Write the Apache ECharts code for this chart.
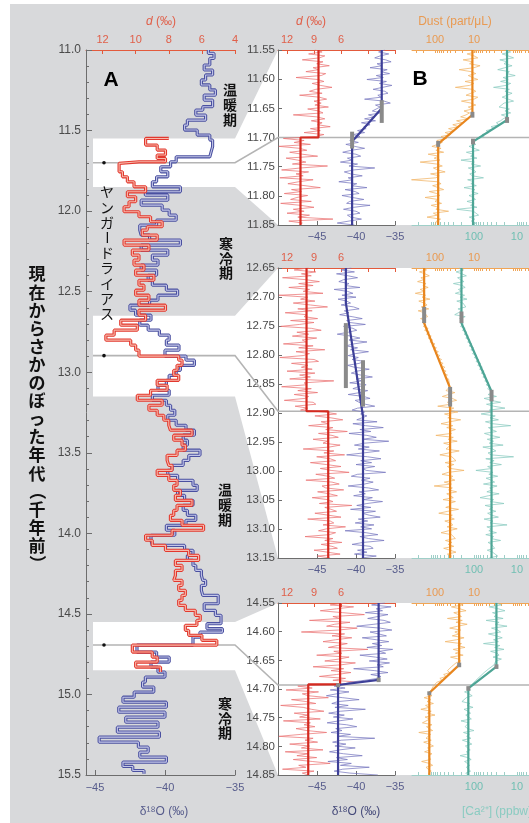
<!DOCTYPE html>
<html><head><meta charset="utf-8">
<script src="https://cdn.jsdelivr.net/npm/echarts@6/dist/echarts.min.js"></script>
<style>html,body{margin:0;padding:0;background:#fff}#c{width:529px;height:823px}</style>
</head><body><div id="c"></div>
<script>
// ---------- Panel A (20-yr step data) ----------
const aBlueT = [11.000,11.021,11.052,11.093,11.124,11.155,11.186,11.217,11.248,11.280,11.311,11.352,11.373,11.404,11.435,11.466,11.497,11.528,11.559,11.600,11.631,11.663,11.694,11.725,11.756,11.787,11.818,11.849,11.880,11.901,11.932,11.963,11.994,12.025,12.056,12.087,
12.118,12.149,12.180,12.211,12.242,12.273,12.304,12.335,12.366,12.398,12.429,12.460,12.491,12.522,12.553,12.584,12.615,12.646,12.677,12.708,12.739,12.770,12.801,12.832,12.863,12.900,12.925,12.957,12.988,13.019,13.050,13.081,13.112,13.143,13.174,13.205,
13.236,13.267,13.298,13.329,13.360,13.391,13.422,13.453,13.484,13.516,13.547,13.578,13.609,13.640,13.671,13.702,13.733,13.764,13.795,13.826,13.857,13.888,13.919,13.950,13.981,14.012,14.043,14.075,14.106,14.137,14.168,14.199,14.230,14.261,14.292,14.323,
14.354,14.385,14.437,14.478,14.509,14.561,14.592,14.613,14.644,14.694,14.737,14.768,14.799,14.830,14.861,14.892,14.923,14.954,14.985,15.017,15.048,15.079,15.110,15.141,15.172,15.203,15.234,15.265,15.296,15.327,15.358,15.389,15.420,15.447,15.472];
const aBlueV = [-36.9,-36.5,-36.8,-37.2,-36.6,-37.1,-37.4,-36.8,-36.4,-37.2,-36.6,-37.3,-37.8,-37.1,-38.4,-38.6,-37.7,-36.8,-36.6,-36.7,-36.8,-39.2,-39.6,-40.3,-39.8,-40.6,-40.9,-38.9,-41.4,-39.8,-41.7,-40.2,-39.7,-39.2,-40.6,-41.8,
-41.7,-41.1,-38.9,-41.7,-39.8,-40.9,-40.5,-41.7,-40.6,-41.2,-40.9,-39.9,-39.1,-40.5,-41.1,-42.5,-42.1,-41.0,-41.8,-41.2,-40.4,-39.7,-39.9,-39.0,-40.0,-38.5,-37.9,-38.9,-39.2,-39.7,-39.9,-40.5,-39.7,-40.9,-39.9,-39.6,
-39.3,-39.8,-39.2,-38.5,-37.9,-38.7,-38.4,-38.7,-37.5,-38.3,-38.7,-39.5,-39.8,-39.1,-38.0,-37.7,-39.1,-38.6,-38.0,-38.7,-38.4,-37.8,-38.5,-39.9,-39.3,-41.0,-40.9,-38.6,-38.0,-38.4,-38.0,-37.8,-37.4,-37.3,-37.1,-37.4,
-37.3,-36.2,-37.2,-36.4,-36.0,-37.0,-35.9,-37.5,-38.0,-42.0,-40.6,-39.7,-41.0,-40.5,-40.0,-41.4,-41.6,-40.8,-42.2,-43.0,-39.9,-43.3,-40.0,-42.8,-40.5,-43.4,-40.4,-44.7,-41.9,-41.2,-41.8,-39.9,-43.0,-42.3,-41.5];
const aBlueEnd = 15.492;
const aRedT = [11.549,11.549,11.590,11.621,11.652,11.673,11.694,11.704,11.756,11.787,11.818,11.849,11.880,11.911,11.942,11.973,12.004,12.035,12.066,12.097,
12.118,12.149,12.180,12.211,12.242,12.273,12.304,12.335,12.366,12.398,12.429,12.460,12.491,12.522,12.553,12.584,12.615,12.646,12.677,12.708,12.739,12.770,12.801,12.832,12.863,12.900,12.925,12.957,12.988,13.019,13.050,13.081,13.112,13.143,13.174,13.205,
13.236,13.267,13.298,13.329,13.360,13.391,13.422,13.453,13.484,13.516,13.547,13.578,13.609,13.640,13.671,13.702,13.733,13.764,13.795,13.826,13.857,13.888,13.919,13.950,13.981,14.012,14.043,14.075,14.106,14.137,14.168,14.199,14.230,14.261,14.292,14.323,
14.354,14.385,14.416,14.447,14.478,14.509,14.540,14.571,14.602,14.633,14.664,14.694,14.737,14.768,14.799,14.830];
const aRedV = [8.0,9.4,8.7,8.2,8.7,8.2,9.8,11.0,10.8,10.5,10.1,9.4,10.5,10.0,10.4,10.7,9.8,9.1,8.4,9.3,
9.6,8.7,10.7,9.2,10.2,9.8,10.1,9.5,10.0,8.9,9.8,9.5,10.0,9.2,9.8,8.2,9.8,9.4,10.9,9.9,11.3,11.8,10.3,10.0,9.8,7.4,7.2,7.5,7.7,7.4,8.7,8.1,9.1,9.9,8.4,9.2,
8.7,8.3,8.0,7.9,6.6,7.7,7.2,7.0,7.5,8.1,8.0,7.8,8.7,8.0,7.5,7.7,7.3,7.6,6.6,7.5,7.7,7.9,7.2,5.9,7.8,9.4,9.0,8.2,6.8,6.2,7.6,7.2,7.6,7.7,7.2,7.4,
7.0,7.2,7.4,7.0,6.4,6.1,6.3,7.0,6.8,6.0,5.1,10.2,9.0,8.7,10.0,8.5];
const aRedEnd = 14.861;

// ---------- Panel B high-resolution data (evenly spaced within each window) ----------
const subRanges = [[11.55,11.85],[12.65,13.15],[14.55,14.85]];
const transT = [11.700, 12.897, 14.693];

const bD1 = [8.9,8.1,9.6,7.8,8.4,10.3,8.0,8.7,7.3,9.1,8.5,9.9,7.7,8.2,11.0,8.6,7.9,9.2,8.3,7.0,8.8,9.5,8.1,10.6,8.4,7.6,9.0,8.2,8.9,7.4,9.7,8.5,8.0,11.3,8.7,7.8,9.3,8.1,8.6,7.2,9.4,8.3,10.1,7.9,8.8,
12.4,10.1,11.2,9.4,12.9,10.6,9.8,11.7,10.3,8.6,12.1,10.8,9.9,11.4,7.5,10.5,12.6,9.6,11.0,10.2,12.8,9.1,10.7,11.9,10.0,8.3,11.5,10.4,12.3,9.7,10.9,11.6,9.3,12.7,10.5,9.0,11.3,10.1,12.0,9.5,10.8,6.9,11.8,10.3,10.6];
const bO1 = [-36.3,-37.1,-35.8,-36.9,-37.6,-36.2,-35.5,-37.3,-36.7,-38.2,-36.0,-36.8,-35.7,-37.4,-36.5,-38.6,-36.1,-37.0,-35.4,-36.6,-37.8,-36.3,-35.9,-37.2,-36.8,-38.9,-36.4,-35.6,-37.5,-36.9,
-37.0,-37.9,-36.8,-38.4,-37.6,-38.9,-37.5,-39.3,-38.2,-39.0,-38.7,-39.8,-38.9,-40.4,-39.5,-40.1,
-40.8,-39.7,-41.3,-40.2,-38.9,-40.6,-41.7,-40.0,-39.4,-41.1,-40.5,-42.0,-39.8,-40.9,-37.6,-40.3,-41.5,-40.7,-39.2,-41.0,-40.4,-42.2,-39.9,-40.6,-38.6,-41.4,-40.1,-39.6,-41.8,-40.5,-39.0,-40.8,-41.2,-38.2,-40.3,-41.6,-40.0,-39.5,-41.1,-40.7,-39.3,-40.9,-42.4,-40.2];
const bDust1 = [12,9,15,10,8,19,11,13,7,10,24,12,9,14,11,8,17,10,13,30,11,9,12,16,8,10,21,12,9,14,11,18,13,
16,22,14,28,20,35,25,45,32,55,40,70,50,90,65,
85,120,70,95,60,150,80,105,75,240,90,65,110,85,55,130,78,95,400,88,70,115,82,60,140,90,75,180,85,100,68,125,80,95,45,110,88,160,72,92,85,100];
const bCa1 = [18,14,22,16,12,25,17,20,13,19,28,15,17,11,21,16,24,14,18,35,15,19,13,17,22,16,12,20,18,26,15,19,14,23,17,21,
24,30,26,40,34,52,45,65,58,80,95,
110,90,130,100,75,150,105,120,85,200,98,115,70,135,102,90,125,108,60,140,100,118,88,170,95,112,80,130,105,92,145,99,120,85,250,103,110,78,128,96,115,90,105];

const bD2 = [9.6,11.2,8.8,10.4,9.3,12.5,9.9,8.4,10.7,9.1,11.8,9.5,10.2,8.0,12.9,9.7,10.5,8.9,11.3,9.4,7.5,10.8,9.2,12.2,9.8,10.1,8.6,11.6,9.0,10.6,12.7,9.3,8.2,10.9,9.6,11.4,8.7,10.3,9.9,12.4,
9.1,10.7,7.8,11.0,9.5,10.2,12.8,9.0,8.5,11.5,9.7,10.4,9.2,12.0,8.9,10.6,9.4,11.7,6.8,10.1,9.8,12.6,9.3,10.8,8.6,11.2,9.6,10.0,12.3,9.1,8.8,11.1,9.7,10.5,
7.8,6.5,8.9,7.1,5.8,8.2,7.4,9.6,6.9,7.7,5.3,8.5,7.0,6.3,9.1,7.5,8.0,6.1,7.3,10.2,6.8,7.9,5.6,8.7,7.2,6.6,9.4,7.6,6.0,8.3,7.1,5.1,8.8,7.4,6.7,9.9,7.0,6.2,8.1,7.7,
5.7,8.6,7.3,6.4,9.2,7.5,6.9,8.4,4.8,7.8,7.1,6.5,8.9,7.4,6.0,9.7,7.2,6.8,8.0,5.5,7.6,8.5,6.6,7.3,10.0,6.9,7.8,5.9,8.2,7.0,6.4,9.0,7.5,6.1,8.6,7.2];
const bO2 = [-40.6,-41.9,-40.2,-42.5,-41.0,-39.8,-41.6,-42.2,-40.9,-41.4,-39.5,-42.8,-41.1,-40.4,-41.8,-40.0,-42.3,-41.2,
-40.7,-41.9,-40.3,-39.6,-41.5,-40.9,-42.1,-40.5,-39.2,-41.2,-40.8,-38.8,-41.6,-40.4,-39.9,-41.0,-42.4,-40.6,-39.5,-40.9,
-38.6,-40.3,-41.3,-39.8,-40.7,-38.4,-40.1,-41.0,-39.7,-40.5,-38.9,-39.6,-41.1,-40.2,-38.3,-39.9,-40.6,-39.4,-37.9,-40.0,
-39.3,-40.8,-38.7,-39.7,-40.4,-38.5,-39.5,-41.0,-39.0,-38.2,-40.1,-39.6,-38.8,-37.6,-39.8,-40.5,-38.9,-39.4,-38.6,
-38.4,-39.9,-37.3,-40.4,-38.8,-36.5,-39.5,-38.1,-40.9,-38.6,-37.4,-39.2,-35.8,-38.9,-40.2,-38.3,-39.7,-37.0,-39.0,-41.2,
-38.5,-36.8,-39.4,-38.0,-40.0,-37.6,-39.1,-38.7,-36.2,-39.8,-40.6,-38.2,-39.3,-37.8,-38.9,-41.0,-38.4,-37.1,-39.6,-38.8,
-40.3,-37.9,-39.0,-36.6,-38.6,-39.9,-38.1,-40.7,-37.5,-39.2,-38.3,-36.9,-39.7,-38.5,-40.1,-37.7,-39.4,-38.0,-41.4,-38.7,
-37.2,-39.5,-38.4,-36.4,-39.1,-40.5,-38.2,-37.8,-39.8,-38.6,-40.2,-37.4,-39.3];
const bDust2 = [210,165,250,180,140,230,195,280,170,205,150,240,185,320,175,215,135,260,190,160,225,145,270,185,200,155,235,175,210,
170,200,150,185,140,165,125,150,115,135,100,120,92,108,82,98,75,88,68,80,62,72,56,66,52,60,48,55,45,50,43,47,42,
38,52,31,45,65,36,28,48,40,85,33,44,26,57,39,47,22,42,70,35,50,30,43,38,95,34,46,27,60,40,36,52,24,44,75,37,41,29,55,33,
48,40,18,46,66,35,42,31,58,38,105,36,45,28,50,41,34,62,30,44,39,53,25,47,80,36,43,32,56,40,35,49,27,45,70,38,42,30,54,37,46,33,60,41,29,48,38,43];
const bCa2 = [220,175,260,190,150,240,205,170,300,185,160,230,195,270,165,210,145,250,180,200,155,235,190,175,280,160,215,185,200,
180,205,160,185,145,170,135,155,125,140,112,130,102,118,95,108,85,98,78,90,70,82,64,74,58,68,54,62,50,56,46,52,43,48,41,
36,47,30,58,40,24,51,35,19,44,38,68,32,42,27,54,37,14,46,39,30,57,41,25,49,35,44,21,62,37,31,47,40,12,53,34,43,23,48,38,
90,36,45,28,52,40,33,60,29,43,38,50,26,46,72,35,41,20,55,37,44,31,48,39,27,58,36,42,17,50,38,45,30,53,35,40,24,47,39,43,33,49,37,41,28,44];

const bD3 = [5.4,7.2,4.6,6.5,8.3,5.8,3.4,6.9,6.1,9.5,5.0,6.7,7.6,4.2,6.3,10.4,5.6,7.0,4.8,6.6,8.0,5.3,6.4,7.4,3.0,6.8,5.9,8.7,5.1,6.2,7.8,4.4,6.0,9.1,5.7,7.1,4.9,6.5,8.4,5.5,6.9,3.8,6.3,
10.8,9.2,12.1,8.5,10.3,9.6,7.4,11.5,9.9,8.8,12.7,10.2,9.3,7.9,11.2,9.7,10.6,8.3,12.4,9.4,10.1,8.9,11.0,9.8,7.6,10.5,12.9,9.1,10.0,8.6,11.7,9.5,10.4,8.0,12.2,9.6,10.9,8.7,11.3,9.2,7.2,10.7,9.9,12.5,9.0,10.3,9.6];
const bO3 = [-36.3,-38.0,-35.5,-37.4,-36.6,-38.8,-35.9,-37.2,-38.5,-36.4,-35.6,-37.7,-39.9,-36.9,-35.4,-38.2,-37.1,-36.1,-39.2,-37.4,-35.8,-37.9,-36.7,-38.6,-35.3,-37.0,-36.2,-39.5,-37.5,-36.0,-38.3,-35.7,-37.3,-36.5,-40.3,-37.6,-35.9,-38.1,-36.8,-37.2,
-38.9,-40.7,-41.6,
-42.8,-41.4,-43.3,-40.9,-42.5,-43.8,-41.7,-39.6,-42.3,-43.1,-41.0,-42.7,-38.8,-42.0,-43.5,-41.5,-42.9,-40.4,-42.2,-43.7,-41.2,-39.9,-42.6,-41.8,-43.2,-40.7,-42.4,-37.6,-41.9,-43.0,-41.3,-42.7,-40.1,-42.1,-43.4,-41.6,-39.2,-42.5,-41.1,-43.6,-40.6,-42.0,-38.3,-41.7,-42.8,-40.8,-37.2];
const bDust3 = [27,19,38,23,16,33,25,21,48,20,29,15,26,42,22,31,24,36,18,28,55,21,26,17,34,23,30,19,40,25,22,29,
30,38,34,48,42,60,52,75,66,90,80,110,98,125,135,
150,120,190,130,160,110,175,140,230,125,155,100,180,135,145,210,120,165,140,115,260,130,150,170,125,195,140,110,155,135,185,120,145,160,130,220,140,115,170,150,125,145,140];
const bCa3 = [31,23,44,27,19,37,29,34,21,52,26,32,17,39,28,24,46,30,22,35,27,60,25,33,20,41,29,26,36,23,31,28,34,
36,45,42,58,54,72,68,90,88,110,125,
140,120,165,130,110,150,135,190,125,145,105,170,138,120,155,142,115,200,132,125,160,140,100,175,128,148,118,185,136,112,158,140,122,150,130,210,138,116,165,142,126,150,134,120,155,140];

// fitted transitions [age, value]
const fitD1 = [[11.55,8.5],[11.70,8.5],[11.70,10.5],[11.85,10.5]];
const fitO1 = [[11.55,-36.7],[11.65,-36.7],[11.707,-40.5],[11.85,-40.5]];
const fitDust1 = [[11.55,11],[11.661,11],[11.711,83],[11.85,83]];
const fitCa1 = [[11.55,17],[11.67,17],[11.707,105],[11.85,105]];
const fitD2 = [[12.65,9.83],[12.897,9.83],[12.897,7.42],[13.15,7.42]];
const fitO2 = [[12.65,-41.3],[12.71,-41.3],[12.906,-39.1],[13.15,-39.1]];
const fitDust2 = [[12.65,190],[12.745,190],[12.857,41],[13.15,41]];
const fitCa2 = [[12.65,195],[12.745,195],[12.863,39],[13.15,39]];
const fitD3 = [[14.55,6.1],[14.692,6.1],[14.692,9.64],[14.85,9.64]];
const fitO3 = [[14.55,-37.1],[14.684,-37.1],[14.693,-42.3],[14.85,-42.3]];
const fitDust3 = [[14.55,24],[14.658,24],[14.707,140],[14.85,140]];
const fitCa3 = [[14.55,30],[14.661,30],[14.699,135],[14.85,135]];
// uncertainty bars [value, age1, age2]
const errO1 = [[-36.7,11.636,11.675],[-40.5,11.690,11.719]];
const errDust1 = [[11,11.656,11.666],[83,11.706,11.716]];
const errCa1 = [[17,11.665,11.675],[105,11.702,11.712]];
const errO2 = [[-41.3,12.745,12.857],[-39.1,12.809,12.889]];
const errDust2 = [[190,12.717,12.745],[41,12.855,12.889]];
const errCa2 = [[195,12.725,12.745],[39,12.860,12.880]];
const errO3 = [[-37.1,14.680,14.688],[-42.3,14.690,14.697]];
const errDust3 = [[24,14.654,14.662],[140,14.704,14.711]];
const errCa3 = [[30,14.657,14.665],[135,14.695,14.703]];

// tick labels
const aD18Labels = [-45,-40,-35];
const aDLabels = [4,6,8,10,12];
const bD18Labels = [-45,-40,-35];
const bDLabels = [6,9,12];
const bDTicks = [0,3,6,9,12];
const dustLabels = [10,100];
const caLabels = [10,100];

// ---------- layout ----------
const FONT = '"Liberation Sans", Arial, sans-serif';
const JP = '"Noto Sans CJK JP", sans-serif';
const A = {left:86, top:50, width:149, height:725};
const B1L = 278, B2L = 412, BW = 117, W = 529;
const subTop = [50,268,603], subH = [175,290,172];
const RED='#e0604a', BLUEL='#575c8c', OR='#e99a52', TEAL='#70bfb3', GRAYAX='#6d6d6d';

const chart = echarts.init(document.getElementById('c'), null, {renderer:'canvas'});
const lg = Math.log10, id = v => v;
const minus = v => (v < 0 ? '\u2212' : '') + Math.abs(v);

function stairs(ts, vs, tEnd){ const out=[]; for(let i=0;i<ts.length;i++){ const t1 = i+1<ts.length ? ts[i+1] : tEnd; out.push([vs[i], ts[i]],[vs[i], t1]); } return out; }
function spread(vals, tr, f){ const n=vals.length; return vals.map((v,i)=>[f(v), tr[0]+(tr[1]-tr[0])*i/(n-1)]); }
function fitPts(arr, f){ return arr.map(p=>[f(p[1]), p[0]]); }
function logTicks(lo, hi){ const out=[]; for(let n=-1;n<=3;n++) for(let k=1;k<=9;k++){ const v=n+Math.log10(k); if(v>=lo-1e-9 && v<=hi+1e-9) out.push(v);} return out; }

function xax(o, color, lineColor, ticks, labels, fmt, tickLen, margin){
  return Object.assign({type:'value', splitLine:{show:false},
    axisLine:{show:true, onZero:false, lineStyle:{color:lineColor, width:1}},
    axisTick:{show:true, inside:true, length:tickLen, customValues:ticks, lineStyle:{color:lineColor}},
    axisLabel:{show:true, customValues:labels, color:color, fontSize:11, fontFamily:FONT, margin:margin, formatter:fmt}
  }, o);
}

const grids = [Object.assign({outerBoundsMode:'none'}, A)];
subTop.forEach((t,i)=>grids.push({left:B1L, top:t, width:BW, height:subH[i], outerBoundsMode:'none'}));
subTop.forEach((t,i)=>grids.push({left:B2L, top:t, width:BW, height:subH[i], outerBoundsMode:'none'}));

const DUST_MIN = -0.41, DUST_MAX = 2.59, CA_MIN = 0.72, CA_MAX = 3.44;
const xAxes = [
  xax({gridIndex:0, position:'bottom', min:-45.64, max:-35}, BLUEL, GRAYAX, aD18Labels, aD18Labels, minus, 5, 7),
  xax({gridIndex:0, position:'top', min:4, max:13, inverse:true}, RED, '#e35a3c', aDLabels, aDLabels, String, 4, 5)
];
for(let i=0;i<3;i++){
  xAxes.push(xax({gridIndex:1+i, position:'bottom', min:-50, max:-35}, BLUEL, GRAYAX, [-50,-45,-40,-35], bD18Labels, minus, 4, 6));
  xAxes.push(xax({gridIndex:1+i, position:'top', min:0, max:13, inverse:true}, RED, '#e35a3c', bDTicks, bDLabels, String, 4, 5));
}
for(let i=0;i<3;i++){
  xAxes.push(xax({gridIndex:4+i, position:'bottom', min:CA_MIN, max:CA_MAX, inverse:true}, TEAL, '#9fcfc8', logTicks(CA_MIN,CA_MAX), caLabels.map(lg), v=>String(Math.round(Math.pow(10,v))), 3, 6));
  xAxes.push(xax({gridIndex:4+i, position:'top', min:DUST_MIN, max:DUST_MAX, inverse:true}, OR, '#f0a556', logTicks(DUST_MIN,DUST_MAX), dustLabels.map(lg), v=>String(Math.round(Math.pow(10,v))), 3, 5));
}

const yAxes = [{gridIndex:0, type:'value', inverse:true, min:11, max:15.5, interval:0.5,
  axisLine:{show:true, onZero:false, lineStyle:{color:GRAYAX}},
  axisTick:{show:true, inside:true, length:6, lineStyle:{color:GRAYAX}},
  minorTick:{show:true, splitNumber:5, length:3, lineStyle:{color:GRAYAX}},
  axisLabel:{color:'#4a4a4a', fontSize:12, fontFamily:FONT, margin:5, formatter:v=>v.toFixed(1)},
  splitLine:{show:false}, minorSplitLine:{show:false}}];
subRanges.forEach((r,i)=>yAxes.push({gridIndex:1+i, type:'value', inverse:true, min:r[0], max:r[1], interval:0.05,
  axisLine:{show:true, onZero:false, lineStyle:{color:GRAYAX}},
  axisTick:{show:true, inside:true, length:4, lineStyle:{color:GRAYAX}},
  axisLabel:{color:'#4a4a4a', fontSize:11.5, fontFamily:FONT, margin:3, formatter:v=>v.toFixed(2)},
  splitLine:{show:false}}));
subRanges.forEach((r,i)=>yAxes.push({gridIndex:4+i, type:'value', inverse:true, min:r[0], max:r[1], show:false, splitLine:{show:false}}));

function line(data, xi, yi, color, width, z, opacity){
  return {type:'line', xAxisIndex:xi, yAxisIndex:yi, data:data, symbol:'none', showSymbol:false, silent:true,
    lineStyle:{color:color, width:width, opacity:opacity==null?1:opacity}, z:z, animation:false};
}

const series = [
  line(stairs(aBlueT,aBlueV,aBlueEnd),0,0,'#4a50a0',3.2,2),
  line(stairs(aBlueT,aBlueV,aBlueEnd),0,0,'#c3c6e8',1.1,2),
  line(stairs(aRedT,aRedV,aRedEnd),1,0,'#e2382e',3.2,2),
  line(stairs(aRedT,aRedV,aRedEnd),1,0,'#f7b8aa',1.1,2)
];
const subs = [
  {d:bD1,o:bO1,du:bDust1,ca:bCa1,fd:fitD1,fo:fitO1,fdu:fitDust1,fca:fitCa1,eo:errO1,edu:errDust1,eca:errCa1},
  {d:bD2,o:bO2,du:bDust2,ca:bCa2,fd:fitD2,fo:fitO2,fdu:fitDust2,fca:fitCa2,eo:errO2,edu:errDust2,eca:errCa2},
  {d:bD3,o:bO3,du:bDust3,ca:bCa3,fd:fitD3,fo:fitO3,fdu:fitDust3,fca:fitCa3,eo:errO3,edu:errDust3,eca:errCa3}
];
subs.forEach((s,i)=>{
  const tr = subRanges[i];
  const xO=2+2*i, xD=3+2*i, y1=1+i, xCa=8+2*i, xDu=9+2*i, y2=4+i;
  series.push(line(spread(s.d,tr,id),xD,y1,'#ea7070',0.8,2,0.9));
  series.push(line(spread(s.o,tr,id),xO,y1,'#7373bd',0.8,2,0.9));
  series.push(line(spread(s.du,tr,lg),xDu,y2,'#f2b466',0.8,2,0.95));
  series.push(line(spread(s.ca,tr,lg),xCa,y2,'#8acbc0',0.8,2,0.95));
  series.push(line(fitPts(s.fd,id),xD,y1,'#d42a20',2.2,4));
  series.push(line(fitPts(s.fo,id),xO,y1,'#3d3f98',2.2,4));
  series.push(line(fitPts(s.fdu,lg),xDu,y2,'#e8861e',2.2,4));
  series.push(line(fitPts(s.fca,lg),xCa,y2,'#4da595',2.2,4));
  s.eo.forEach(e=>series.push(line([[e[0],e[1]],[e[0],e[2]]],xO,y1,'#8a8a8a',4,5)));
  s.edu.forEach(e=>series.push(line([[lg(e[0]),e[1]],[lg(e[0]),e[2]]],xDu,y2,'#8a8a8a',4,5)));
  s.eca.forEach(e=>series.push(line([[lg(e[0]),e[1]],[lg(e[0]),e[2]]],xCa,y2,'#8a8a8a',4,5)));
});

chart.setOption({animation:false, backgroundColor:'#ffffff', grid:grids, xAxis:xAxes, yAxis:yAxes, series:series});

// ---------- decorations ----------
const ROT = new Set(['ー','（','）','(',')']);
function vtext(str, x, y0, pitch, size, weight){
  return Array.from(str).map((ch,i)=>({type:'text', x:x, y:y0+i*pitch, rotation:ROT.has(ch)?-Math.PI/2:0, z:20, silent:true,
    style:{text:ch, fill:'#111', font:weight+' '+size+'px '+JP, align:'center', verticalAlign:'middle', textAlign:'center', textVerticalAlign:'middle'}}));
}
function T(text, x, y, font, fill, align, rich){
  const st = {text:text, fill:fill, font:font, align:align||'center', verticalAlign:'middle', textAlign:align||'center', textVerticalAlign:'middle'};
  if(rich) st.rich = rich;
  return {type:'text', x:x, y:y, z:20, silent:true, style:st};
}
const px = (yi,t)=>chart.convertToPixel({yAxisIndex:yi}, t);
const els = [{type:'rect', shape:{x:10,y:4,width:W-10,height:819}, style:{fill:'#d8d9db'}, z:-5, silent:true}];
const aBand = A.left+7, aR = A.left+A.width;
subRanges.forEach((r,i)=>{
  const ta=px(0,r[0]), ba=px(0,r[1]), tb=px(1+i,r[0]), bb=px(1+i,r[1]);
  els.push({type:'polygon', silent:true, z:-4, shape:{points:[[aBand,ta],[aR,ta],[B1L,tb],[W,tb],[W,bb],[B1L,bb],[aR,ba],[aBand,ba]]}, style:{fill:'#ffffff'}});
  const ya=px(0,transT[i]), yb=px(1+i,transT[i]);
  els.push({type:'polyline', silent:true, z:1, shape:{points:[[aBand,ya],[aR,ya],[B1L,yb],[W,yb]]}, style:{stroke:'#b4b4b4', lineWidth:1.6, fill:null}});
  els.push({type:'circle', silent:true, z:6, shape:{cx:A.left+18, cy:ya, r:1.8}, style:{fill:'#111'}});
});
const dRich = {i:{font:'italic 12px '+FONT, fill:RED}, n:{font:'12px '+FONT, fill:RED}};
els.push(T('{i|d}{n| (‰)}', 161, 22, '12px '+FONT, RED, 'center', dRich));
els.push(T('{i|d}{n| (‰)}', 311, 22, '12px '+FONT, RED, 'center', dRich));
els.push(T('Dust (part/μL)', 455, 22, '12px '+FONT, OR));
els.push(T('δ¹⁸O (‰)', 164, 812, '12px '+FONT, BLUEL));
els.push(T('δ¹⁸O (‰)', 356, 812, '12px '+FONT, '#454a7a'));
els.push(T('[Ca²⁺] (ppbw)', 462, 812, '12px '+FONT, '#8acbc1', 'left'));
els.push(T('A', 111, 80, 'bold 21px '+FONT, '#000'));
els.push(T('B', 420, 79, 'bold 21px '+FONT, '#000'));
els.push(...vtext('温暖期', 230, 90, 15, 14, 'bold'));
els.push(...vtext('寒冷期', 226, 244, 14.5, 14, 'bold'));
els.push(...vtext('温暖期', 225, 489.5, 15, 14, 'bold'));
els.push(...vtext('寒冷期', 225, 704, 14.5, 14, 'bold'));
els.push(...vtext('ヤンガードライアス', 107, 192, 15.2, 14, 'normal'));
els.push(...vtext('現在からさかのぼった年代（千年前）', 37, 274, 18.1, 17, 'bold'));
chart.setOption({graphic:{elements:els}});
</script>
</body></html>
